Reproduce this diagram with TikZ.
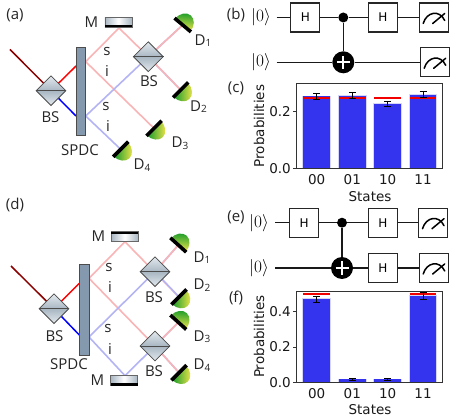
\documentclass[tikz,border=0pt]{standalone}
\usepackage{fontspec}
\setmainfont{DejaVu Sans}
\newfontfamily\opn{Open Sans}
\usetikzlibrary{shapes.geometric,calc}
\pgfdeclarelayer{bg}
\pgfsetlayers{bg,main}
\definecolor{pinkb}{HTML}{F9B4B6}
\definecolor{blueb}{HTML}{B4B4F4}
\definecolor{barblue}{HTML}{3434EE}
\definecolor{baredge}{HTML}{D6D6F8}
\definecolor{spdcc}{HTML}{8499AE}
\definecolor{bsgray}{HTML}{A8B6C2}
\definecolor{bslight}{HTML}{E4EAEE}
\definecolor{dgreen}{HTML}{129A2A}
\definecolor{dyellow}{HTML}{F5E64A}
\tikzset{
 x=1pt,y=-1pt,
 lab/.style={font=\opn\fontsize{15}{15}\selectfont,inner sep=0pt,text=black!85},
 plab/.style={font=\opn\fontsize{15}{15}\selectfont,inner sep=0pt,text=black!85},
 bsbox/.style={diamond,draw=black!70,line width=.8pt,minimum width=30pt,minimum height=30pt,inner sep=0pt,aspect=1,
   shade,top color=bslight,bottom color=bslight,middle color=bsgray},
 spdc/.style={rectangle,draw=black!70,line width=.8pt,fill=spdcc,inner sep=0pt},
 mirror/.style={rectangle,draw=black!60,line width=.6pt,inner sep=0pt,minimum width=27pt,minimum height=10pt,
   shade,left color=bsgray,right color=bsgray,middle color=white},
 pinkl/.style={pinkb,line width=1.6pt},
 bluel/.style={blueb,line width=1.6pt},
 pump/.style={line width=1.5pt},
 gate/.style={rectangle,draw=black!85,line width=1.1pt,fill=white,inner sep=0pt,minimum width=29pt,minimum height=29pt,font=\fontsize{12}{12}\selectfont},
 wire/.style={black!90,line width=1.3pt},
 ket/.style={inner sep=0pt,font=\fontsize{18}{18}\selectfont},
 tick/.style={font=\fontsize{13.5}{13.5}\selectfont,inner sep=0pt,text=black!90},
 ctrl/.style={circle,fill=black,inner sep=0pt,minimum size=10pt},
 cnot/.style={circle,fill=black,inner sep=0pt,minimum size=22pt,path picture={
    \draw[white,line width=1.7pt] ($(path picture bounding box.center)+(-6.5,0)$)--($(path picture bounding box.center)+(6.5,0)$);
    \draw[white,line width=1.7pt] ($(path picture bounding box.center)+(0,-6.5)$)--($(path picture bounding box.center)+(0,6.5)$);}},
}
% detector at a named coordinate; #2 is the way the dome faces
\newcommand{\detector}[2]{%
 \begin{scope}[shift={(#1)},rotate=#2]
  \pgfmathsetmacro{\shang}{45-#2}
  \shade[top color=dgreen,bottom color=dyellow,shading angle=\shang]
    (0,-10) arc[start angle=-90,end angle=90,x radius=12.5,y radius=10] -- cycle;
  \fill[black] (-1.8,-10.7) rectangle (1.8,10.7);
 \end{scope}}
\newcommand{\meterglyph}[1]{%
 \draw[black,line width=1.5pt,line cap=round] ($(#1.center)+(-10.5,6)$) .. controls ($(#1.center)+(-7,-6)$) and ($(#1.center)+(6,-8)$) .. ($(#1.center)+(11,3)$);
 \draw[black,line width=1.5pt,line cap=round] ($(#1.center)+(-1,6)$)--($(#1.center)+(11,-4)$);}
\newcommand{\bbar}[5]{%
 \fill[baredge] (#1-14.3,#2-.7) rectangle (#1+14.3,#4);
 \fill[barblue] (#1-13.3,#2) rectangle (#1+13.3,#4);
 \draw[red!95!black,line width=#5] (#1-13.3,#3) -- (#1+13.3,#3);}
\newcommand{\berr}[3]{%
 \draw[black,line width=.9pt] (#1,#2)--(#1,#3) (#1-3.5,#2)--(#1+3.5,#2) (#1-3.5,#3)--(#1+3.5,#3);}
\newcommand{\Dlab}[1]{D\raisebox{-1.5pt}{\fontsize{10}{10}\selectfont #1}}
\begin{document}
\begin{tikzpicture}
\useasboundingbox (0,0) rectangle (457,419);
\begin{pgfonlayer}{bg}
\fill[white] (0,0) rectangle (457,419);
\end{pgfonlayer}
%%%%%% panel a
\coordinate (a0) at (10,49.5);
\node[bsbox] (abs1) at (51,90.7) {};
\node[spdc,minimum width=9.7pt,minimum height=88pt] (aspdc) at (80.8,91.7) {};
\node[mirror] (am) at (118.3,22.5) {};
\node[bsbox] (abs2) at (148.3,56.7) {};
\coordinate (ap1) at (85.7,61.7);
\coordinate (ap2) at (85.7,116);
\coordinate (amm) at (119,28);
\coordinate (ared) at (76,66);
\coordinate (ablue) at (76,116);
\coordinate (ad1) at (182.7,25);
\coordinate (ad2) at (180.7,90);
\coordinate (ad3) at (154,128.3);
\coordinate (ad4) at (120.7,149.3);
\begin{pgfonlayer}{bg}
\draw[pinkl] (ap1)--(amm)--(abs2.center);
\draw[pinkl] (ap1)--(ad3);
\draw[bluel] (ap2)--(abs2.center);
\draw[bluel] (ap2)--(ad4);
\draw[bluel,shift={(1.2,1.2)}] (abs2.center)--(ad1);
\draw[pinkl,shift={(-1.2,-1.2)}] (abs2.center)--(ad1);
\draw[bluel,shift={(1.2,-1.2)}] (abs2.center)--(ad2);
\draw[pinkl,shift={(-1.2,1.2)}] (abs2.center)--(ad2);
\draw[pump,red!55!black] (a0)--(abs1.center);
\draw[pump,red] (abs1.center)--(ared);
\draw[pump,blue] (abs1.center)--(ablue);
\end{pgfonlayer}
\draw[black!70,line width=.8pt] (abs1.west)--(abs1.east) (abs2.west)--(abs2.east);
\fill[black] (105,24.7) rectangle (131.7,27.5);
\detector{ad1}{50}
\detector{ad2}{-45}
\detector{ad3}{-45}
\detector{ad4}{-45}
\node[plab] (la) at (15,15) {(a)};
\node[lab] (lam) at (91.5,22.5) {M};
\node[lab] (las1) at (107,51) {s};
\node[lab] (lai1) at (107,71) {i};
\node[lab] (las2) at (106,106) {s};
\node[lab] (lai2) at (108,126) {i};
\node[lab] (labs1) at (50.5,117.5) {BS};
\node[lab] (labs2) at (149,81.5) {BS};
\node[lab] (lasp) at (80,150) {SPDC};
\node[lab] (lad1) at (203,40.5) {\Dlab{1}};
\node[lab] (lad2) at (198.5,106.5) {\Dlab{2}};
\node[lab] (lad3) at (180,143) {\Dlab{3}};
\node[lab] (lad4) at (142,165) {\Dlab{4}};
%%%%%% panel d
\coordinate (d0) at (11,266);
\node[bsbox] (dbs1) at (54,308.7) {};
\node[spdc,minimum width=9.7pt,minimum height=91pt] (dspdc) at (84.2,309.5) {};
\node[mirror] (dm1) at (124.7,236.7) {};
\node[mirror] (dm2) at (124,380.7) {};
\node[bsbox] (dbs2) at (155,271.7) {};
\node[bsbox] (dbs3) at (155,346) {};
\coordinate (dp1) at (89,278.3);
\coordinate (dp2) at (89,337);
\coordinate (dmt) at (125,241.7);
\coordinate (dmb) at (125,375.7);
\coordinate (dred) at (79.3,283.3);
\coordinate (dblue) at (79.3,335);
\coordinate (dd1) at (178.3,245);
\coordinate (dd2) at (179,297);
\coordinate (dd3) at (178.3,322.3);
\coordinate (dd4) at (179,372.7);
\begin{pgfonlayer}{bg}
\draw[pinkl] (dp1)--(dmt)--(dd2);
\draw[pinkl] (dp1)--(dbs3.center);
\draw[bluel] (dp2)--(dbs2.center);
\draw[bluel] (dp2)--(dmb)--(dbs3.center);
\draw[bluel] (dbs2.center)--(dd1);
\draw[pinkl,shift={(-1,-1)}] (dbs2.center)--(dd1);
\draw[bluel,shift={(1.2,-1.2)}] (dbs2.center)--(dd2);
\draw[bluel,shift={(1.2,1.2)}] (dbs3.center)--(dd3);
\draw[pinkl,shift={(-1.2,-1.2)}] (dbs3.center)--(dd3);
\draw[bluel,shift={(1.2,-1.2)}] (dbs3.center)--(dd4);
\draw[pinkl,shift={(-1.2,1.2)}] (dbs3.center)--(dd4);
\draw[pump,red!55!black] (d0)--(dbs1.center);
\draw[pump,red] (dbs1.center)--(dred);
\draw[pump,blue] (dbs1.center)--(dblue);
\end{pgfonlayer}
\draw[black!70,line width=.8pt] (dbs1.west)--(dbs1.east) (dbs2.west)--(dbs2.east) (dbs3.west)--(dbs3.east);
\fill[black] (111.2,231.7) rectangle (138.2,234.5);
\fill[black] (110.5,383) rectangle (137.5,385.7);
\detector{dd1}{48}
\detector{dd2}{-45}
\detector{dd3}{48}
\detector{dd4}{-45}
\node[plab] (ld) at (15,205) {(d)};
\node[lab] (ldm1) at (98.5,236.5) {M};
\node[lab] (lds1) at (109,267) {s};
\node[lab] (ldi1) at (110,287) {i};
\node[lab] (lds2) at (108,328) {s};
\node[lab] (ldi2) at (110,349) {i};
\node[lab] (ldbs1) at (54.5,336) {BS};
\node[lab] (ldbs2) at (154,297) {BS};
\node[lab] (ldbs3) at (154,371) {BS};
\node[lab] (ldsp) at (69,364) {SPDC};
\node[lab] (ldm2) at (97.5,380) {M};
\node[lab] (ldd1) at (202,257.5) {\Dlab{1}};
\node[lab] (ldd2) at (202,285) {\Dlab{2}};
\node[lab] (ldd3) at (202,336.5) {\Dlab{3}};
\node[lab] (ldd4) at (202,365) {\Dlab{4}};
%%%%%% circuit b
\node[plab] (lb) at (236,15) {(b)};
\node[ket] (bk1) at (261,17.5) {$|0\rangle$};
\node[ket] (bk2) at (261,62.5) {$|0\rangle$};
\coordinate (bw1) at (276.7,17.5);
\coordinate (bw2) at (276.7,62.3);
\node[gate] (bh1) at (305.3,17.5) {H};
\node[gate] (bh2) at (383,17.5) {H};
\node[gate] (bm1) at (433.7,17.5) {};
\node[gate] (bm2) at (434.7,62.3) {};
\node[ctrl] (bc) at (343.3,17.5) {};
\node[cnot] (bt) at (343.3,62.3) {};
\draw[wire] (bw1)--(bh1) (bh1)--(bc) (bc)--(bh2) (bh2)--(bm1);
\draw[wire] (bw2)--(bt) (bt)--(bm2);
\draw[wire] (bc)--(bt);
\meterglyph{bm1}
\meterglyph{bm2}
%%%%%% chart c
\node[plab] (lc) at (236,88) {(c)};
\bbar{316.7}{96.3}{97.7}{168.7}{2.2pt}
\bbar{352.3}{95.7}{97.7}{168.7}{2.2pt}
\bbar{387.7}{103.7}{97.7}{168.7}{2.2pt}
\bbar{423}{94.7}{97.7}{168.7}{2.2pt}
\berr{316.7}{93.3}{99.3}
\berr{352.3}{92.7}{98.7}
\berr{387.7}{101}{106.3}
\berr{423}{91.3}{97.3}
\draw[black!80,line width=.9pt] (296.7,83.3) rectangle (442.7,168.7);
\draw[black!80,line width=.9pt] (293,111.7)--(296.7,111.7) (293,168.7)--(296.7,168.7);
\node[tick,anchor=east] (c02) at (291,111.7) {0.2};
\node[tick,anchor=east] (c00) at (291,168.7) {0.0};
\node[tick] (cx0) at (316.7,180) {00};
\node[tick] (cx1) at (352.3,180) {01};
\node[tick] (cx2) at (387.7,180) {10};
\node[tick] (cx3) at (423,180) {11};
\node[tick] (cxl) at (370,196.5) {States};
\node[tick,rotate=90] (cyl) at (259,126) {Probabilities};
%%%%%% circuit e
\node[plab] (le) at (236,217) {(e)};
\node[ket] (ek1) at (259,222.7) {$|0\rangle$};
\node[ket] (ek2) at (259,268.3) {$|0\rangle$};
\coordinate (ew1) at (275,222.7);
\coordinate (ew2) at (275,268);
\node[gate] (eh1) at (304.2,222.7) {H};
\node[gate] (eh2) at (383,222.7) {H};
\node[gate] (eh3) at (383,268) {H};
\node[gate] (em1) at (433,222.7) {};
\node[gate] (em2) at (433.7,268) {};
\node[ctrl] (ec) at (342,222.7) {};
\node[cnot] (et) at (342,268) {};
\draw[wire] (ew1)--(eh1) (eh1)--(ec) (ec)--(eh2) (eh2)--(em1);
\draw[wire] (ew2)--(et) (et)--(eh3) (eh3)--(em2);
\draw[wire] (ec)--(et);
\meterglyph{em1}
\meterglyph{em2}
%%%%%% chart f
\node[plab] (lf) at (236,298) {(f)};
\bbar{316.7}{299}{293.7}{382.3}{2.2pt}
\bbar{352.3}{379.3}{382}{382.3}{1pt}
\bbar{387.7}{379.3}{382}{382.3}{1pt}
\bbar{423}{295.7}{293.7}{382.3}{2.2pt}
\berr{316.7}{296}{302.3}
\berr{352.3}{378.7}{380}
\berr{387.7}{378.7}{380}
\berr{423}{292.3}{299}
\draw[black!80,line width=.9pt] (296.7,291.7) rectangle (442.7,382.3);
\draw[black!80,line width=.9pt] (293,311.7)--(296.7,311.7) (293,347)--(296.7,347) (293,382.3)--(296.7,382.3);
\node[tick,anchor=east] (f04) at (291,311.7) {0.4};
\node[tick,anchor=east] (f02) at (291,347) {0.2};
\node[tick,anchor=east] (f00) at (291,382.3) {0.0};
\node[tick] (fx0) at (316.7,393.5) {00};
\node[tick] (fx1) at (352.3,393.5) {01};
\node[tick] (fx2) at (387.7,393.5) {10};
\node[tick] (fx3) at (423,393.5) {11};
\node[tick] (fxl) at (370,410) {States};
\node[tick,rotate=90] (fyl) at (259,336.7) {Probabilities};
\end{tikzpicture}
\end{document}
